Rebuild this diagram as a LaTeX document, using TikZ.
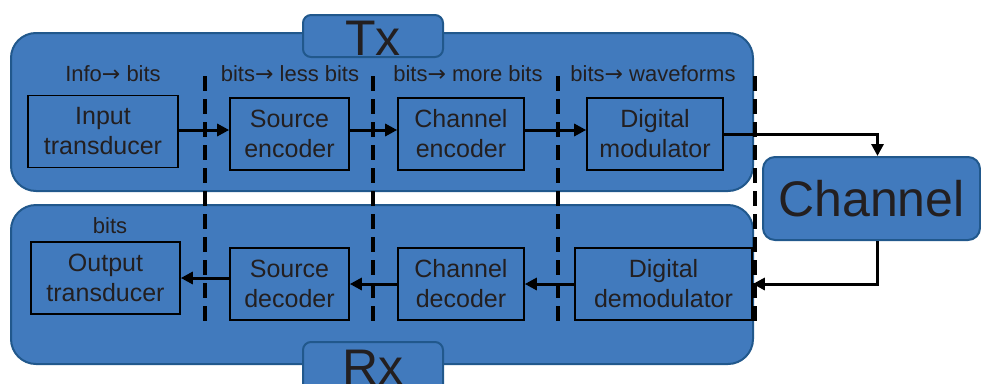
\documentclass[tikz,border=0pt]{standalone}
\usepackage{fontspec}
\setmainfont{Liberation Sans}
\newfontfamily\arrowfont{DejaVu Sans}
\usetikzlibrary{arrows.meta}

\definecolor{txblue}{RGB}{65,122,189}
\definecolor{txedge}{RGB}{33,88,140}
\definecolor{ink}{RGB}{35,31,32}

\newcommand{\bitsto}{{\arrowfont\char"2192}}

\tikzset{
  frame/.style={draw=txedge, fill=txblue, line width=2pt, rounded corners=25pt},
  tag/.style={draw=txedge, fill=txblue, line width=2pt, rounded corners=8pt},
  block/.style={draw=black, line width=1.6pt, text=ink, align=center, inner sep=0pt,
    minimum height=72pt, font=\fontsize{25}{30}\selectfont},
  conn/.style={-{Triangle[length=12pt,width=12pt]}, line width=3pt, black},
  divider/.style={line width=3.5pt, dash pattern=on 15pt off 8pt},
  note/.style={text=ink, anchor=base, font=\fontsize{22}{26}\selectfont},
  big/.style={text=ink, font=\fontsize{50}{60}\selectfont}
}

\begin{document}
\begin{tikzpicture}[x=1pt,y=-1pt]
%\draw[help lines] (0,0) grid[step=50] (981,383);
\useasboundingbox (0,0) rectangle (981,383);

\draw [frame] (11,33) rectangle (753,191);
\draw [tag] (303,15) rectangle (443,57);
\node (tx) at (373,55) [big,anchor=base] {Tx};

\draw [frame] (11,205) rectangle (753,364);
\draw [tag] (303,342) rectangle (443,400);
\node (rx) at (373,384) [big,anchor=base] {Rx};

\node (chan) at (871.5,198.5) [big,draw=txedge,fill=txblue,line width=2pt,rounded corners=12pt,
  minimum width=217pt,minimum height=83pt,inner sep=0pt] {Channel};

\node (input) at (103,131.5) [block,minimum width=150pt] {Input\\transducer};
\node (srcenc) at (289.5,134) [block,minimum width=119pt] {Source\\encoder};
\node (chenc) at (461,134) [block,minimum width=126pt] {Channel\\encoder};
\node (mod) at (655,134) [block,minimum width=136pt] {Digital\\modulator};

\node (output) at (105.5,278) [block,minimum width=149pt] {Output\\transducer};
\node (srcdec) at (289.5,284) [block,minimum width=119pt] {Source\\decoder};
\node (chdec) at (461,284) [block,minimum width=126pt] {Channel\\decoder};
\node (demod) at (663.5,284) [block,minimum width=177pt] {Digital\\demodulator};

\node (l1) at (113,81) [note] {Info\bitsto{} bits};
\node (l2) at (290,81) [note] {bits\bitsto{} less bits};
\node (l3) at (468,81) [note] {bits\bitsto{} more bits};
\node (l4) at (653,81) [note] {bits\bitsto{} waveforms};
\node (l5) at (110,233) [note] {bits};

\draw [conn] ([yshift=1.5pt]input.east) -- ([yshift=1.5pt]input.east -| srcenc.west);
\draw [conn] ([yshift=4pt]srcenc.east) -- ([yshift=4pt]chenc.west);
\draw [conn] ([yshift=4pt]chenc.east) -- ([yshift=4pt]mod.west);
\draw [conn] (mod.east) -| ([xshift=6pt]chan.north);
\draw [conn] ([xshift=6pt]chan.south) |- (demod.east);
\draw [conn] (demod.west) -- (chdec.east);
\draw [conn] (chdec.west) -- (srcdec.east);
\draw [conn] (srcdec.west |- output.east) -- (output.east);

\draw [divider] (205,76) -- (205,327);
\draw [divider] (373,76) -- (373,327);
\draw [divider] (558,76) -- (558,327);
\draw [divider] (755,76) -- (755,327);
\end{tikzpicture}
\end{document}
